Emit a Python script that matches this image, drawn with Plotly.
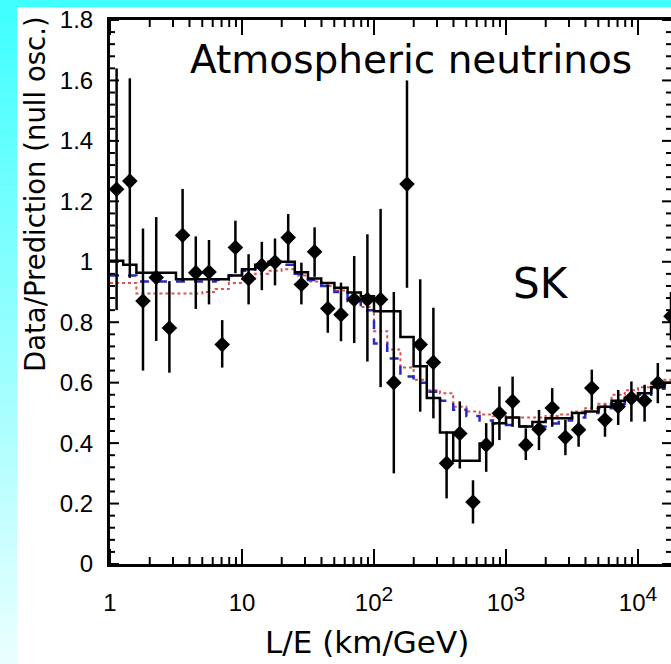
import math
import plotly.graph_objects as go

# ---------------- data ----------------
le_centers = [1.122, 1.413, 1.778, 2.239, 2.818, 3.548, 4.467, 5.623, 7.079, 8.913,
              11.22, 14.13, 17.78, 22.39, 28.18, 35.48, 44.67, 56.23, 70.79, 89.13,
              112.2, 141.3, 177.8, 223.9, 281.8, 354.8, 446.7, 562.3, 707.9, 891.3,
              1122, 1413, 1778, 2239, 2818, 3548, 4467, 5623, 7079, 8913,
              11220, 14130, 17780]
le_edges = [1.0, 1.259, 1.585, 1.995, 2.512, 3.162, 3.981, 5.012, 6.310, 7.943,
            10.0, 12.59, 15.85, 19.95, 25.12, 31.62, 39.81, 50.12, 63.10, 79.43,
            100.0, 125.9, 158.5, 199.5, 251.2, 316.2, 398.1, 501.2, 631.0, 794.3,
            1000, 1259, 1585, 1995, 2512, 3162, 3981, 5012, 6310, 7943,
            10000, 12590, 15850, 19950]

data_ratio = [1.24, 1.267, 0.87, 0.948, 0.781, 1.088, 0.964, 0.966, 0.726, 1.047,
              0.944, 0.988, 0.999, 1.080, 0.925, 1.033, 0.845, 0.825, 0.875, 0.875,
              0.875, 0.600, 1.257, 0.726, 0.667, 0.333, 0.432, 0.205, 0.394, 0.499,
              0.538, 0.394, 0.446, 0.516, 0.419, 0.444, 0.582, 0.477, 0.521, 0.549,
              0.540, 0.599, 0.82]
err_up = [0.40, 0.34, 0.24, 0.20, 0.155, 0.153, 0.12, 0.106, 0.081, 0.089,
          0.081, 0.078, 0.078, 0.078, 0.072, 0.081, 0.08, 0.106, 0.144, 0.216,
          0.30, 0.30, 0.343, 0.216, 0.181, 0.105, 0.106, 0.072, 0.072, 0.088,
          0.082, 0.055, 0.064, 0.066, 0.058, 0.055, 0.061, 0.05, 0.055, 0.055,
          0.053, 0.066, 0.08]
err_down = [0.40, 0.32, 0.23, 0.21, 0.148, 0.152, 0.12, 0.107, 0.076, 0.085,
            0.085, 0.082, 0.077, 0.077, 0.066, 0.083, 0.08, 0.088, 0.144, 0.205,
            0.29, 0.30, 0.343, 0.222, 0.185, 0.116, 0.116, 0.071, 0.089, 0.089,
            0.084, 0.05, 0.069, 0.062, 0.059, 0.056, 0.072, 0.056, 0.061, 0.078,
            0.069, 0.067, 0.08]

osc_black = [1.003, 0.99, 0.964, 0.964, 0.964, 0.942, 0.942, 0.942, 0.942, 0.955,
             0.975, 0.99, 1.0, 1.0, 0.965, 0.945, 0.93, 0.914, 0.898, 0.886,
             0.836, 0.836, 0.751, 0.654, 0.549, 0.435, 0.342, 0.342, 0.399, 0.466,
             0.485, 0.455, 0.47, 0.482, 0.482, 0.50, 0.505, 0.52, 0.54, 0.55,
             0.565, 0.585, 0.60]
model_blue = [0.955, 0.955, 0.935, 0.935, 0.935, 0.935, 0.935, 0.935, 0.94, 0.955,
              0.97, 0.98, 0.99, 0.99, 0.96, 0.94, 0.92, 0.90, 0.87, 0.84,
              0.73, 0.68, 0.62, 0.60, 0.57, 0.54, 0.51, 0.49, 0.475, 0.465,
              0.46, 0.455, 0.455, 0.465, 0.475, 0.485, 0.50, 0.515, 0.53, 0.545,
              0.56, 0.58, 0.595]
model_red = [0.93, 0.93, 0.895, 0.895, 0.895, 0.895, 0.895, 0.90, 0.91, 0.93,
             0.945, 0.96, 0.97, 0.975, 0.955, 0.935, 0.92, 0.905, 0.88, 0.85,
             0.77, 0.71, 0.65, 0.61, 0.575, 0.565, 0.52, 0.505, 0.495, 0.49,
             0.485, 0.485, 0.485, 0.49, 0.495, 0.505, 0.515, 0.53, 0.56, 0.575,
             0.585, 0.60, 0.61]

x_tickvals = [1, 10, 100, 1000, 10000]
x_ticktext = ["1", "10",
              "10<sup><span style='font-size:21px'>2</span></sup>",
              "10<sup><span style='font-size:21px'>3</span></sup>",
              "10<sup><span style='font-size:21px'>4</span></sup>"]
y_tickvals = [0, 0.2, 0.4, 0.6, 0.8, 1.0, 1.2, 1.4, 1.6, 1.8]

# ---------------- figure ----------------
W, H = 671, 664
L, R, T, B = 110, 0, 20, 100
pw, ph = W - L - R, H - T - B
X_RANGE = [0, 4.25]
Y_RANGE = [0, 1.8]


def px(x):
    return (x - L) / pw


def py(y):
    return (H - B - y) / ph


fig = go.Figure()


def step(vals, **kw):
    return go.Scatter(x=le_edges, y=vals + [vals[-1]], mode="lines",
                      line_shape="hv", hoverinfo="skip", **kw)


fig.add_trace(step(model_red, line=dict(color="#E05050", width=2, dash="dot")))
fig.add_trace(step(model_blue, line=dict(color="#2828C8", width=2.5, dash="dash")))
fig.add_trace(step(osc_black, line=dict(color="black", width=2.5)))

fig.add_trace(go.Scatter(
    x=le_centers, y=data_ratio, mode="markers",
    marker=dict(symbol="diamond", size=12, color="black"),
    error_y=dict(type="data", symmetric=False, array=err_up, arrayminus=err_down,
                 color="black", thickness=2.5, width=0),
))

# invisible traces so that the overlay axes (labels, top/right frame) are drawn
for xa, ya in [("x2", "y"), ("x", "y2"), ("x4", "y"), ("x", "y4")]:
    fig.add_trace(go.Scatter(x=le_centers, y=data_ratio, xaxis=xa, yaxis=ya,
                             mode="markers", marker=dict(opacity=0), hoverinfo="skip"))

# ---- background ----
shapes = []
shapes.append(dict(type="rect", xref="paper", yref="paper",
                   x0=px(17), x1=px(W + 5), y0=py(H + 5), y1=py(7.5),
                   fillcolor="white", line=dict(width=0), layer="below"))
nb = 40
for i in range(nb):
    y0 = 7.5 + (H - 7.5) * i / nb
    y1 = 7.5 + (H - 7.5) * (i + 1) / nb
    r = int(64 + (236 - 64) * (i + 0.5) / nb)
    shapes.append(dict(type="rect", xref="paper", yref="paper",
                       x0=px(-3), x1=px(17), y0=py(y1 + 0.5), y1=py(y0),
                       fillcolor=f"rgb({r},255,255)", line=dict(width=0),
                       layer="below"))

# ---- inward tick marks on all four sides (derived from the axis tick values) ----
tick_line = dict(color="black", width=2)
x_minor = [m * 10 ** d for d in range(0, 5) for m in range(2, 10)
           if math.log10(m * 10 ** d) <= X_RANGE[1]]


def xfrac(v):
    return (math.log10(v) - X_RANGE[0]) / (X_RANGE[1] - X_RANGE[0])


for vals, ln in [(x_tickvals, 15), (x_minor, 7)]:
    for v in vals:
        f = xfrac(v)
        shapes.append(dict(type="line", xref="paper", yref="paper", x0=f, x1=f,
                           y0=0, y1=ln / ph, line=tick_line, layer="above"))
        shapes.append(dict(type="line", xref="paper", yref="paper", x0=f, x1=f,
                           y0=1, y1=1 - ln / ph, line=tick_line, layer="above"))

y_minor = [round(0.04 * k, 2) for k in range(46) if k % 5 != 0]
for vals, ln in [(y_tickvals, 9), (y_minor, 5)]:
    for v in vals:
        shapes.append(dict(type="line", xref="paper", yref="y", x0=0, x1=ln / pw,
                           y0=v, y1=v, line=tick_line, layer="above"))
        shapes.append(dict(type="line", xref="paper", yref="y", x0=1, x1=1 - ln / pw,
                           y0=v, y1=v, line=tick_line, layer="above"))

annotations = [
    dict(text="Atmospheric neutrinos", x=px(411), y=py(60), xref="paper", yref="paper",
         showarrow=False, xanchor="center", yanchor="middle",
         font=dict(family="Comic Sans MS, DejaVu Sans", size=39, color="black")),
    dict(text="SK", x=px(541), y=py(283), xref="paper", yref="paper",
         showarrow=False, xanchor="center", yanchor="middle",
         font=dict(family="Comic Sans MS, DejaVu Sans", size=42, color="black")),
    dict(text="Data/Prediction (null osc.)", x=px(35), y=py(194), xref="paper", yref="paper",
         showarrow=False, xanchor="center", yanchor="middle", textangle=-90,
         font=dict(family="DejaVu Sans", size=27.5, color="black")),
    dict(text="L/E (km/GeV)", x=px(367), y=py(642), xref="paper", yref="paper",
         showarrow=False, xanchor="center", yanchor="middle",
         font=dict(family="DejaVu Sans", size=31, color="black")),
]

tickfont = dict(family="Liberation Sans, Arial", size=24, color="black")
clear = "rgba(0,0,0,0)"


def frame_axis(**kw):
    base = dict(showticklabels=False, ticks="", showgrid=False, zeroline=False,
                showline=True, linewidth=2.5, linecolor="black")
    base.update(kw)
    return base


fig.update_layout(
    template="none",
    width=W, height=H,
    margin=dict(l=L, r=R, t=T, b=B, pad=0),
    paper_bgcolor="#40FFFF",
    plot_bgcolor="white",
    showlegend=False,
    shapes=shapes,
    annotations=annotations,
    xaxis=frame_axis(type="log", range=X_RANGE, tickvals=x_tickvals),
    yaxis=frame_axis(range=Y_RANGE, tickvals=y_tickvals),
    xaxis4=frame_axis(type="log", range=X_RANGE, overlaying="x", anchor="y", side="top"),
    yaxis4=frame_axis(range=Y_RANGE, overlaying="y", anchor="x", side="right"),
    # tick labels
    xaxis2=dict(type="log", range=X_RANGE, overlaying="x", anchor="y", side="bottom",
                tickvals=x_tickvals, ticktext=x_ticktext, tickfont=tickfont,
                ticks="outside", ticklen=17, tickcolor=clear, showline=False,
                showgrid=False, zeroline=False),
    yaxis2=dict(range=Y_RANGE, tickvals=y_tickvals, overlaying="y", anchor="x", side="left",
                tickfont=tickfont, ticks="outside", ticklen=11, tickcolor=clear,
                showline=False, showgrid=False, zeroline=False),
)

fig.write_html("out.html", config={"displayModeBar": False})
